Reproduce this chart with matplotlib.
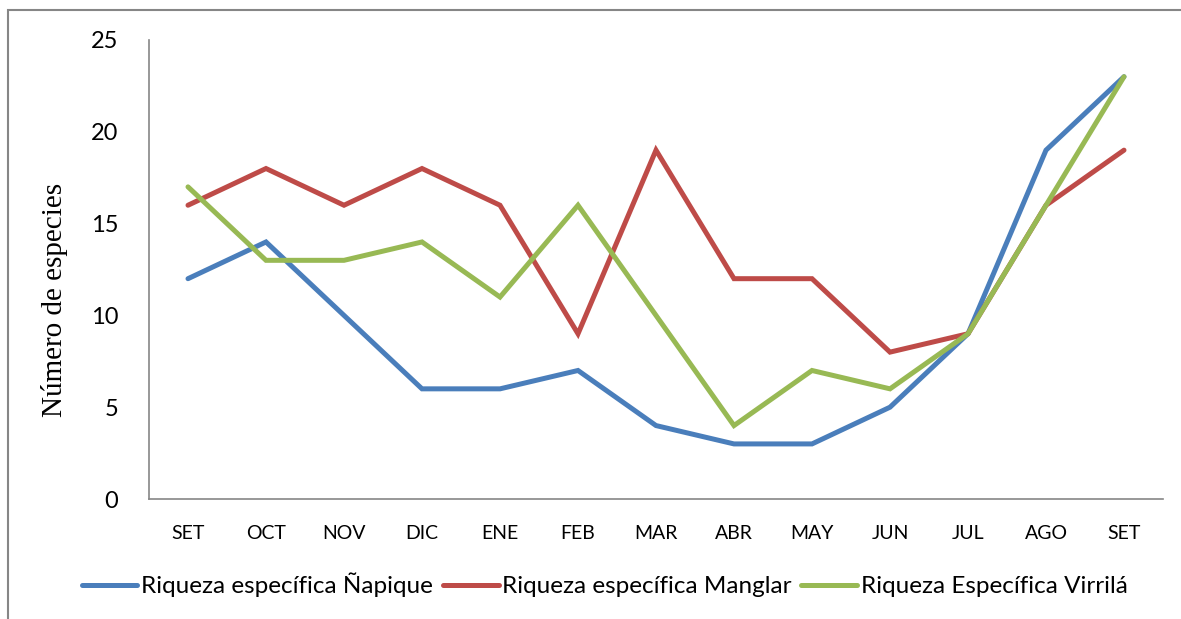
import matplotlib.pyplot as plt
from matplotlib.patches import Rectangle

# datos
meses = ["SET", "OCT", "NOV", "DIC", "ENE", "FEB", "MAR", "ABR", "MAY", "JUN", "JUL", "AGO", "SET"]
napique = [12, 14, 10, 6, 6, 7, 4, 3, 3, 5, 9, 19, 23]
manglar = [16, 18, 16, 18, 16, 9, 19, 12, 12, 8, 9, 16, 19]
virrila = [17, 13, 13, 14, 11, 16, 10, 4, 7, 6, 9, 16, 23]

plt.rcParams['font.family'] = ['Lato', 'DejaVu Sans']

fig = plt.figure(figsize=(11.81, 6.19), dpi=100)
ax = fig.add_axes([149 / 1181, 1 - 499 / 619, (1163 - 149) / 1181, (499 - 40) / 619])

x = list(range(len(meses)))
ax.plot(x, napique, color="#4A7EBB", lw=3.6, solid_capstyle="round", solid_joinstyle="miter",
        label="Riqueza específica Ñapique")
ax.plot(x, manglar, color="#BE4B48", lw=3.6, solid_capstyle="round", solid_joinstyle="miter",
        label="Riqueza específica Manglar")
ax.plot(x, virrila, color="#98B954", lw=3.6, solid_capstyle="round", solid_joinstyle="miter",
        label="Riqueza Específica Virrilá")

ax.set_xlim(-0.5, len(meses) - 0.5)
ax.set_ylim(0, 25)
ax.set_yticks([0, 5, 10, 15, 20, 25])
ax.set_xticks(x)
ax.set_xticklabels(meses, fontsize=14)
ax.tick_params(axis="y", labelsize=17, length=0, pad=22)
ax.tick_params(axis="x", length=0, pad=19)

for s in ["top", "right"]:
    ax.spines[s].set_visible(False)
for s in ["left", "bottom"]:
    ax.spines[s].set_color("#868686")
    ax.spines[s].set_linewidth(1.2)

fig.text(55 / 1181, 1 - 300 / 619, "Número de especies", family="Liberation Serif", fontsize=21,
         rotation=90, ha="center", va="center")

leg = fig.legend(loc="center", bbox_to_anchor=(0.512, 1 - 585 / 619), ncol=3, frameon=False,
                 fontsize=17.5, handlelength=2.3, handletextpad=0.15, columnspacing=0.4)

# marco exterior del grafico
fig.patches.append(Rectangle((8 / 1181, -0.1), 1.2, 1 - 10 / 619 + 0.1, transform=fig.transFigure,
                             fill=False, edgecolor="#868686", linewidth=1.5))

fig.savefig("out.png", dpi=100)
